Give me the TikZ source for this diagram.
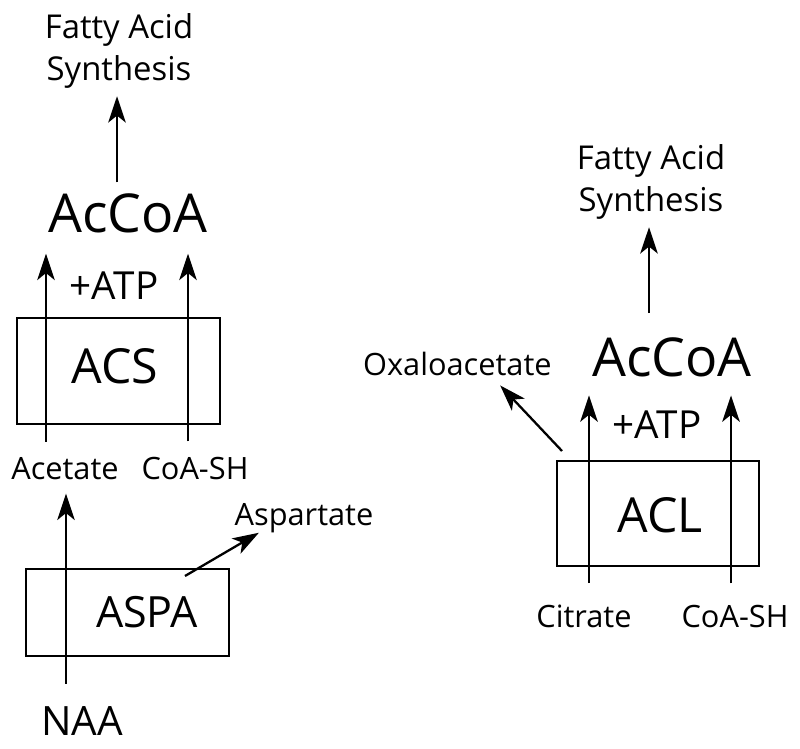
\documentclass[tikz,border=0pt]{standalone}
\usepackage{fontspec}
\setsansfont{Open Sans}
\usetikzlibrary{arrows.meta}

\begin{document}
\begin{tikzpicture}[x=0.02cm, y=-0.02cm, font=\sffamily,
  arr/.style={-{Stealth[length=15pt, width=10pt, inset=4pt]}, line width=1.3pt},
  enzbox/.style={draw, line width=1.2pt, inner sep=0pt},
  fas/.style={font=\sffamily\fontsize{18.7}{24.4}\selectfont, align=center, inner sep=0pt},
  accoa/.style={font=\sffamily\fontsize{30.5}{36}\selectfont, inner sep=0pt, anchor=base},
  atp/.style={font=\sffamily\fontsize{22}{26}\selectfont, inner sep=0pt, anchor=base},
  enz/.style={font=\sffamily\fontsize{27.5}{30}\selectfont, inner sep=0pt, anchor=base},
  metab/.style={font=\sffamily\fontsize{17.5}{20}\selectfont, inner sep=0pt, anchor=base}]

\useasboundingbox (0,0) rectangle (800,749);

% --- izquierda: ASPA / ACS ---
\node[fas] (fasL) at (119,51) {Fatty Acid\\Synthesis};
\node[accoa] (accoaL) at (128,233) {AcCoA};
\node[atp] (atpL) at (114,300) {+ATP};
\node[enzbox, minimum width=4.06cm, minimum height=2.12cm] (acsbox) at (118.5,371) {};
\node[enz] (acs) at (115,383) {ACS};
\node[metab] (acetate) at (65,479) {Acetate};
\node[metab] (coashL) at (195,479) {CoA-SH};
\node[enzbox, minimum width=4.06cm, minimum height=1.74cm] (aspabox) at (127.5,612.5) {};
\node[enz, font=\sffamily\fontsize{24.5}{30}\selectfont] (aspa) at (147,627) {ASPA};
\node[metab] (aspartate) at (304,525) {Aspartate};
\node[enz, font=\sffamily\fontsize{23}{26}\selectfont] (naa) at (82,735) {NAA};

\coordinate (fasinL) at (117,0);
\coordinate (acsinL) at (46,0);
\coordinate (acsinR) at (188,0);
\coordinate (naain) at (66,0);
\coordinate (aspaout) at (185,576);

\draw[arr, shorten <=6.5pt, shorten >=4pt] (fasinL |- accoaL.north) -- (fasinL |- fasL.south);
\draw[arr, shorten <=8.5pt, shorten >=11.3pt] (acsinL |- acetate.north) -- (acsinL |- accoaL.south);
\draw[arr, shorten <=8.5pt, shorten >=11.3pt] (acsinR |- coashL.north) -- (acsinR |- accoaL.south);
\draw[arr, shorten <=12.5pt, shorten >=8pt] (naain |- naa.north) -- (naain |- acetate.south);
\draw[arr] (aspaout) -- ([xshift=14pt]aspartate.south west);

% --- derecha: ACL ---
\node[fas] (fasR) at (651,182) {Fatty Acid\\Synthesis};
\node[accoa] (accoaR) at (672,377) {AcCoA};
\node[atp] (atpR) at (657,438) {+ATP};
\node[metab, anchor=base east] (oxalo) at (552,376) {Oxaloacetate};
\node[enzbox, minimum width=4.04cm, minimum height=2.1cm] (aclbox) at (658,513.5) {};
\node[enz] (acl) at (660,532) {ACL};
\node[metab] (citrate) at (584,627) {Citrate};
\node[metab] (coashR) at (735,627) {CoA-SH};

\coordinate (fasinR) at (649,0);
\coordinate (aclinL) at (589,0);
\coordinate (aclinR) at (731,0);
\coordinate (aclout) at (562,451);

\draw[arr, shorten <=14pt, shorten >=4pt] (fasinR |- accoaR.north) -- (fasinR |- fasR.south);
\draw[arr, shorten <=12pt, shorten >=10pt] (aclinL |- citrate.north) -- (aclinL |- accoaR.south);
\draw[arr, shorten <=12pt, shorten >=10pt] (aclinR |- coashR.north) -- (aclinR |- accoaR.south);
\draw[arr] (aclout) -- ([xshift=-29.5pt, yshift=-5pt]oxalo.south east);

\end{tikzpicture}
\end{document}
